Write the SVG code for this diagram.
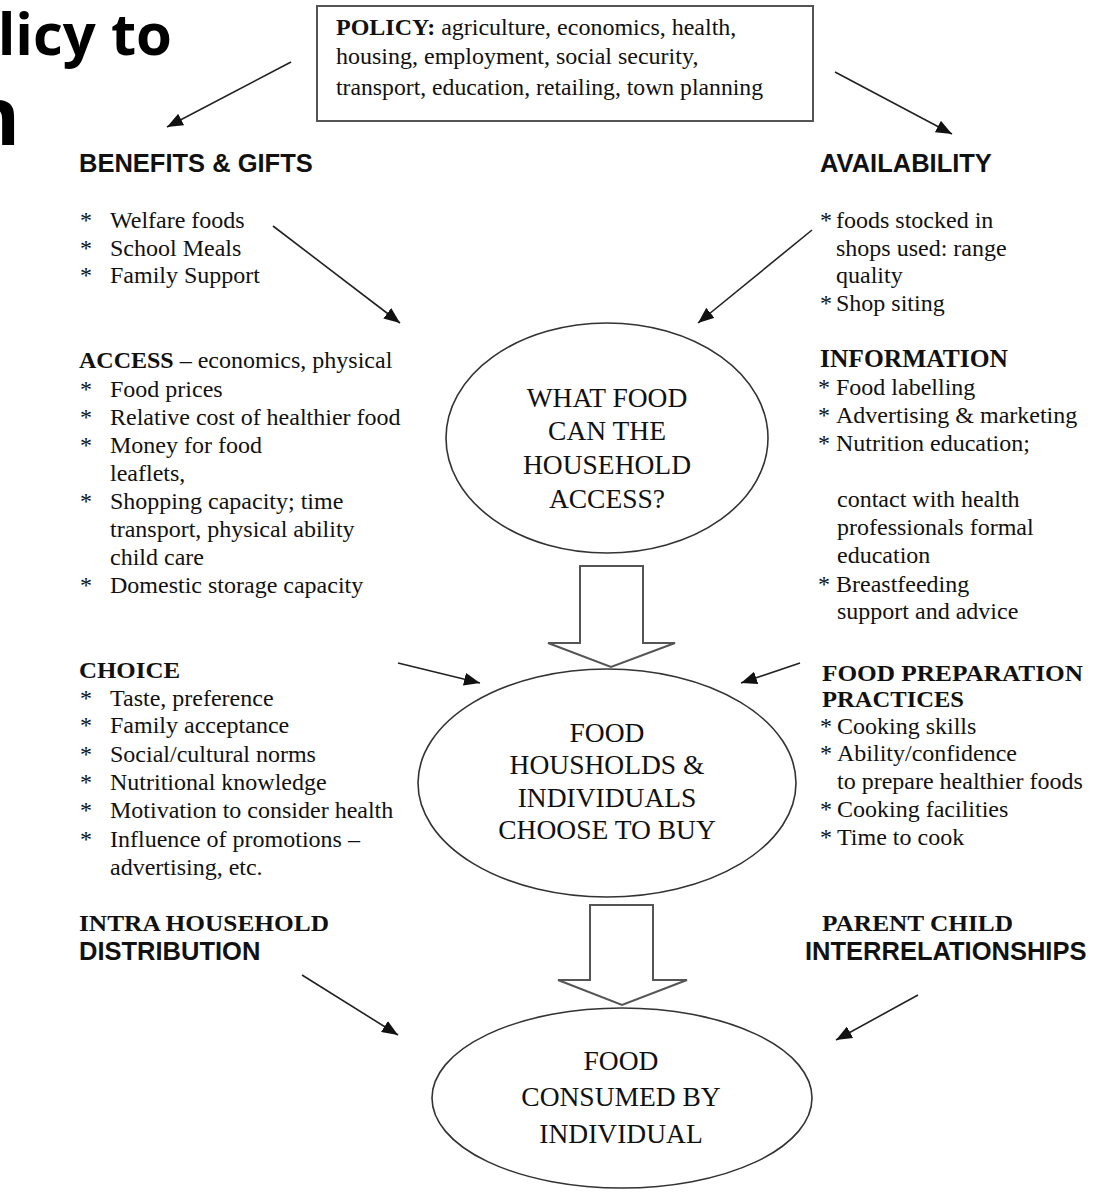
<svg xmlns="http://www.w3.org/2000/svg" width="1096" height="1192" viewBox="0 0 1096 1192">
<defs>
<marker id="ah" markerUnits="userSpaceOnUse" markerWidth="16" markerHeight="13" refX="16" refY="6.5" orient="auto">
<path d="M0,0 L16,6.5 L0,13 z" fill="#111"/>
</marker>
<style>
.t{font-family:"Liberation Serif","Times New Roman",serif;font-size:24px;fill:#111}
.tb{font-family:"Liberation Serif","Times New Roman",serif;font-size:25.5px;font-weight:bold;fill:#111}
.tbs{font-family:"Liberation Serif","Times New Roman",serif;font-size:23px;font-weight:bold;fill:#111}
.ab{font-family:"Liberation Sans",Arial,sans-serif;font-size:25.5px;font-weight:bold;fill:#111}
.et{font-family:"Liberation Serif","Times New Roman",serif;font-size:27.5px;fill:#111;text-anchor:middle}
.ttl{font-family:"Open Sans","Noto Sans",sans-serif;font-weight:bold;fill:#000}
.ell{fill:#fff;stroke:#333;stroke-width:1.6}
.blk{fill:#fff;stroke:#555;stroke-width:2;stroke-linejoin:miter}
.ln{stroke:#222;stroke-width:1.6;fill:none;marker-end:url(#ah)}
</style>
</defs>
<rect width="1096" height="1192" fill="#fff"/>

<g id="title">
<text class="ttl" x="172" y="55" font-size="58" text-anchor="end">licy to</text>
<text class="ttl" x="20" y="145" font-size="80" text-anchor="end">n</text>
</g>

<g id="policy">
<rect x="317" y="6" width="496" height="115" fill="#fff" stroke="#555" stroke-width="2"/>
<text class="t" x="336" y="35"><tspan font-weight="bold">POLICY:</tspan> agriculture, economics, health,</text>
<text class="t" x="336" y="64">housing, employment, social security,</text>
<text class="t" x="336" y="95" textLength="427" lengthAdjust="spacingAndGlyphs">transport, education, retailing, town planning</text>
</g>

<g id="benefits">
<text class="ab" x="79" y="172" font-size="26.8">BENEFITS &amp; GIFTS</text>
<text class="t" x="80" y="228">*</text><text class="t" x="110" y="228">Welfare foods</text>
<text class="t" x="80" y="256">*</text><text class="t" x="110" y="256">School Meals</text>
<text class="t" x="80" y="283">*</text><text class="t" x="110" y="283">Family Support</text>
</g>

<g id="availability">
<text class="ab" x="820" y="172" font-size="26.8">AVAILABILITY</text>
<text class="t" x="820" y="228">*</text><text class="t" x="836" y="228">foods stocked in</text>
<text class="t" x="836" y="256">shops used: range</text>
<text class="t" x="836" y="283">quality</text>
<text class="t" x="820" y="311">*</text><text class="t" x="836" y="311">Shop siting</text>
</g>

<g id="access">
<text class="t" x="79" y="368"><tspan font-weight="bold">ACCESS</tspan> – economics, physical</text>
<text class="t" x="80" y="397">*</text><text class="t" x="110" y="397">Food prices</text>
<text class="t" x="80" y="425">*</text><text class="t" x="110" y="425">Relative cost of healthier food</text>
<text class="t" x="80" y="453">*</text><text class="t" x="110" y="453">Money for food</text>
<text class="t" x="110" y="481">leaflets,</text>
<text class="t" x="80" y="509">*</text><text class="t" x="110" y="509">Shopping capacity; time</text>
<text class="t" x="110" y="537">transport, physical ability</text>
<text class="t" x="110" y="565">child care</text>
<text class="t" x="80" y="593">*</text><text class="t" x="110" y="593">Domestic storage capacity</text>
</g>

<g id="information">
<text class="tb" x="820" y="367">INFORMATION</text>
<text class="t" x="818" y="395">*</text><text class="t" x="836" y="395">Food labelling</text>
<text class="t" x="818" y="423">*</text><text class="t" x="836" y="423">Advertising &amp; marketing</text>
<text class="t" x="818" y="451">*</text><text class="t" x="836" y="451">Nutrition education;</text>
<text class="t" x="837" y="507">contact with health</text>
<text class="t" x="837" y="535">professionals formal</text>
<text class="t" x="837" y="563">education</text>
<text class="t" x="818" y="592">*</text><text class="t" x="836" y="592">Breastfeeding</text>
<text class="t" x="837" y="619">support and advice</text>
</g>

<g id="choice">
<text class="tbs" x="79" y="678" textLength="101" lengthAdjust="spacingAndGlyphs">CHOICE</text>
<text class="t" x="80" y="706">*</text><text class="t" x="110" y="706">Taste, preference</text>
<text class="t" x="80" y="733">*</text><text class="t" x="110" y="733">Family acceptance</text>
<text class="t" x="80" y="762">*</text><text class="t" x="110" y="762">Social/cultural norms</text>
<text class="t" x="80" y="790">*</text><text class="t" x="110" y="790">Nutritional knowledge</text>
<text class="t" x="80" y="818">*</text><text class="t" x="110" y="818">Motivation to consider health</text>
<text class="t" x="80" y="847">*</text><text class="t" x="110" y="847">Influence of promotions –</text>
<text class="t" x="110" y="875">advertising, etc.</text>
</g>

<g id="foodprep">
<text class="tbs" x="822" y="681" textLength="261" lengthAdjust="spacingAndGlyphs">FOOD PREPARATION</text>
<text class="tbs" x="822" y="707" textLength="142" lengthAdjust="spacingAndGlyphs">PRACTICES</text>
<text class="t" x="820" y="734">*</text><text class="t" x="837" y="734">Cooking skills</text>
<text class="t" x="820" y="761">*</text><text class="t" x="837" y="761">Ability/confidence</text>
<text class="t" x="837" y="789">to prepare healthier foods</text>
<text class="t" x="820" y="817">*</text><text class="t" x="837" y="817">Cooking facilities</text>
<text class="t" x="820" y="845">*</text><text class="t" x="837" y="845">Time to cook</text>
</g>

<g id="intra">
<text class="tbs" x="79" y="931" textLength="250" lengthAdjust="spacingAndGlyphs">INTRA HOUSEHOLD</text>
<text class="ab" x="79" y="960">DISTRIBUTION</text>
</g>

<g id="parent">
<text class="tbs" x="822" y="931" textLength="191" lengthAdjust="spacingAndGlyphs">PARENT CHILD</text>
<text class="ab" x="805" y="960">INTERRELATIONSHIPS</text>
</g>

<g id="access-ellipse">
<ellipse class="ell" cx="607" cy="438" rx="161" ry="115"/>
<text class="et" x="607" y="407">WHAT FOOD</text>
<text class="et" x="607" y="440">CAN THE</text>
<text class="et" x="607" y="474">HOUSEHOLD</text>
<text class="et" x="607" y="508">ACCESS?</text>
</g>

<g id="choose-ellipse">
<ellipse class="ell" cx="607" cy="783" rx="189" ry="114"/>
<text class="et" x="607" y="742">FOOD</text>
<text class="et" x="607" y="774">HOUSHOLDS &amp;</text>
<text class="et" x="607" y="807">INDIVIDUALS</text>
<text class="et" x="607" y="839">CHOOSE TO BUY</text>
</g>

<g id="consumed-ellipse">
<ellipse class="ell" cx="622" cy="1098" rx="190" ry="90"/>
<text class="et" x="621" y="1070" font-size="30">FOOD</text>
<text class="et" x="621" y="1106" font-size="30">CONSUMED BY</text>
<text class="et" x="621" y="1143" font-size="30">INDIVIDUAL</text>
</g>

<g id="connectors">
<line class="ln" x1="291" y1="62" x2="167" y2="127"/>
<line class="ln" x1="835" y1="72" x2="952" y2="134"/>
<line class="ln" x1="273" y1="226" x2="400" y2="323"/>
<line class="ln" x1="812" y1="230" x2="698" y2="323"/>
<line class="ln" x1="398" y1="663" x2="480" y2="683"/>
<line class="ln" x1="800" y1="663" x2="741" y2="683"/>
<line class="ln" x1="302" y1="975" x2="398" y2="1035"/>
<line class="ln" x1="918" y1="995" x2="836" y2="1040"/>
<polygon class="blk" points="580,566 643,566 643,643 675,643 611,667 548,643 580,643"/>
<polygon class="blk" points="590,905 653,905 653,980 687,980 622,1005 558,980 590,980"/>
</g>
</svg>
